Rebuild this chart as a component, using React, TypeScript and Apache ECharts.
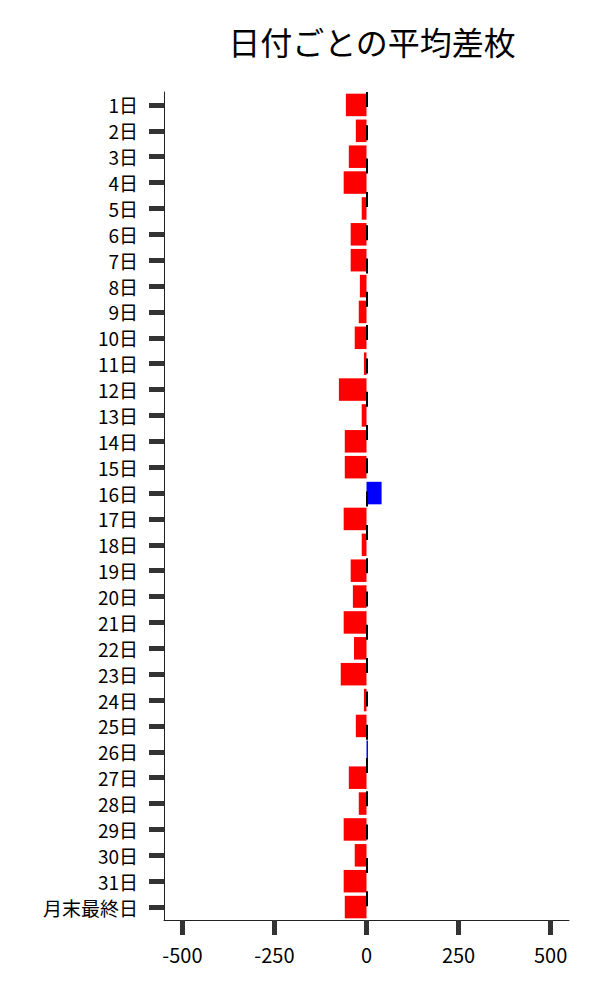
import React, { useEffect, useRef } from 'react';
import * as echarts from 'echarts';

const days: string[] = [
  '1日', '2日', '3日', '4日', '5日', '6日', '7日', '8日', '9日', '10日',
  '11日', '12日', '13日', '14日', '15日', '16日', '17日', '18日', '19日', '20日',
  '21日', '22日', '23日', '24日', '25日', '26日', '27日', '28日', '29日', '30日',
  '31日', '月末最終日',
];

const avgDiff: number[] = [
  -56, -29, -48, -62, -13, -43, -43, -18, -21, -32,
  -7, -75, -13, -59, -59, 41, -62, -13, -43, -37,
  -62, -34, -70, -7, -29, 4, -48, -21, -62, -32,
  -62, -59,
];

const xTicks: number[] = [-500, -250, 0, 250, 500];

const FONT = '"Noto Sans CJK JP", "Noto Sans", sans-serif';

export default function App() {
  const chartRef = useRef<HTMLDivElement>(null);

  useEffect(() => {
    if (!chartRef.current) return;
    const chart = echarts.init(chartRef.current, null, { renderer: 'svg' });

    chart.setOption({
      animation: false,
      backgroundColor: '#fff',
      textStyle: { fontFamily: FONT },
      title: {
        text: '日付ごとの平均差枚',
        left: 367,
        textAlign: 'center',
        top: 20,
        textStyle: { fontFamily: FONT, fontSize: 32, fontWeight: 'normal', color: '#000' },
      },
      grid: { left: 164, right: 31, top: 92, bottom: 80, containLabel: false },
      xAxis: {
        type: 'value',
        min: -550,
        max: 550,
        axisLine: { show: true, lineStyle: { color: '#222', width: 1 } },
        axisTick: {
          show: true,
          customValues: xTicks,
          length: 15,
          lineStyle: { color: '#333', width: 5 },
        },
        axisLabel: {
          customValues: xTicks,
          margin: 24,
          fontSize: 20,
          color: '#000',
          fontFamily: FONT,
        },
        splitLine: { show: false },
      },
      yAxis: {
        type: 'category',
        data: days,
        inverse: true,
        axisLine: { show: true, onZero: false, lineStyle: { color: '#222', width: 1 } },
        axisTick: {
          show: true,
          alignWithLabel: true,
          interval: 0,
          length: 15,
          lineStyle: { color: '#333', width: 5 },
        },
        axisLabel: {
          interval: 0,
          margin: 26,
          fontSize: 19,
          color: '#000',
          fontFamily: FONT,
        },
      },
      series: [
        {
          type: 'bar',
          barCategoryGap: '13%',
          data: avgDiff.map((v) => ({
            value: v,
            itemStyle: { color: v >= 0 ? '#0000ff' : '#ff0000' },
          })),
          markLine: {
            silent: true,
            symbol: 'none',
            label: { show: false },
            lineStyle: { type: [15, 18.3], width: 2, color: '#000' },
            data: [{ xAxis: 0 }],
          },
        },
      ],
    });

    return () => {
      chart.dispose();
    };
  }, []);

  return (
    <div
      ref={chartRef}
      style={{ position: 'absolute', left: 0, top: 0, width: '600px', height: '1000px' }}
    />
  );
}
